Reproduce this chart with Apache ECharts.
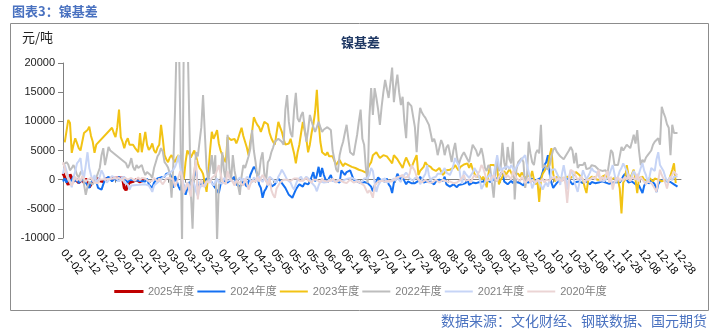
<!DOCTYPE html>
<html><head><meta charset="utf-8">
<script src="https://cdn.jsdelivr.net/npm/echarts/dist/echarts.min.js"></script>
<style>html,body{margin:0;padding:0;background:#fff}#c{width:721px;height:335px}</style>
</head><body><div id="c"></div>
<script>
// calendar of the category axis (leap-year calendar, non-trading holidays removed)
const monthDays = [31,29,31,30,31,30,31,31,30,31,30,31];
const skipDays = ['01-01','04-04','05-01','05-02','05-03','10-01','10-02','10-03','10-04','10-05','10-06','10-07'];
const categories = [];
for (let m = 0; m < 12; m++) {
  for (let d = 1; d <= monthDays[m]; d++) {
    const s = String(m + 1).padStart(2, '0') + '-' + String(d).padStart(2, '0');
    if (skipDays.indexOf(s) < 0) categories.push(s);
  }
}
const yTicks = {min: -10000, max: 20000, step: 5000};
const seriesNames = ['2025年度','2024年度','2023年度','2022年度','2021年度','2020年度'];

const s2025 = [1100,500,-200,-900,900,300,-300,100,0,-500,
 -300,0,-500,200,-600,-1300,-800,-300,0,-200,
 300,-200,100,-300,0,200,null,null,null,null,
 null,null,null,null,300,-1400,-1800,-900,-500,-600,
 -300,-500,0,-200,-400,0,-300];

const s2024 = [-300,200,-500,300,-400,0,500,-300,200,-600,
 -800,0,300,-500,-1000,-1400,-600,0,300,-300,
 -1400,-1200,-1700,-800,0,300,500,200,-300,0,
 300,-200,500,0,-300,400,200,-500,0,null,
 null,null,null,null,null,null,null,-300,200,-800,
 -1000,-1400,-500,-800,200,0,400,600,500,1000,
 800,1100,300,-1400,600,-300,-1200,-1800,-500,-1000,
 -2600,-1500,-500,-800,-200,-500,1600,-1200,-1500,-600,
 -1000,-300,200,500,0,-500,-1000,-1400,-1200,-2300,
 -800,-700,-200,-300,-500,-600,0,300,500,-800,
 -1000,-1200,-1400,-300,-600,-1200,-300,800,1500,2200,
 1800,800,-800,-1400,-3100,-2000,-1500,-800,-300,-1200,
 -1400,-800,-300,200,300,-600,-900,-1400,-2000,-2600,
 -2600,-3100,-2400,-1700,-1200,-800,-1000,-1200,-600,-300,
 -800,-400,500,1300,-300,800,2200,500,2000,800,
 0,-500,300,800,-200,0,-300,-200,-500,1600,
 1200,800,1300,1000,1600,800,0,-200,-300,-600,
 -600,-300,-400,-500,-600,-800,-1200,-2000,-1000,-300,
 400,400,-200,-500,-300,200,-800,-1200,-2300,-500,
 0,1000,500,0,500,-200,-800,-300,0,-600,
 -300,-600,-800,-200,500,300,-500,-600,-300,0,
 -400,-500,-800,-300,-200,0,-300,-200,500,-800,
 -1000,-1200,-1000,-800,-900,-1300,-900,-1100,-800,-700,
 -600,0,-900,-700,-500,-400,-600,-300,-400,-200,
 -300,-500,0,-200,-400,-600,0,400,-300,-500,
 1000,1500,-300,-200,-800,-500,-200,-600,0,-400,
 -300,-600,-500,-1000,-400,-200,-500,-300,200,-400,
 -500,0,-300,300,1300,2500,3000,4200,1000,-500,
 -1400,-1000,-600,-300,0,200,0,-200,500,0,
 -300,-800,-600,-400,-200,-300,-400,-600,-500,-300,
 -500,-800,-400,-300,-600,-900,-500,-400,-300,-600,
 -500,-400,-700,-600,-500,-300,-400,-600,-500,0,
 600,1000,0,-500,-700,-300,-600,-800,-500,-1000,
 -1200,-2300,-1000,-500,-300,-600,0,-400,-800,-2100,
 -800,-300,-500,0,-100,-300,-600,-400,-200,-800,
 -600,-1200];

const s2023 = [null,6400,6200,10250,9700,4600,6000,7100,7300,5400,
 5000,4700,8000,8200,8500,9100,7500,6500,4600,6000,
 null,null,null,null,null,null,null,null,8900,8000,
 7300,9000,12000,7300,6500,5400,6500,7100,6000,6200,
 6000,5500,5200,4700,8000,4700,6500,8200,6000,5100,
 5500,6200,5000,4600,5500,6000,9400,7000,4200,3500,
 3000,3800,4200,3500,3000,3800,4200,2500,1500,0,
 3000,5000,4500,3800,3900,5000,4000,2800,2000,1600,
 1000,-500,-2100,1000,5000,8200,7000,7700,8500,6200,
 5000,4200,3500,3000,7300,7000,6800,6800,7000,6200,
 7000,8000,8900,7500,6500,5500,4200,6500,8200,10700,
 10000,9400,9000,8200,9000,9900,9600,9500,8000,7100,
 6500,6000,8000,9900,9000,8200,7000,6000,6000,6200,
 7000,7300,4500,2800,4700,6000,8000,9900,9600,7000,
 4700,6000,8000,9500,11600,15400,10000,6500,4700,4500,
 4200,4700,4000,3700,4000,4200,2500,3000,3400,2800,
 2300,2800,2800,2500,2600,2200,2000,2000,1800,1700,
 1600,1500,1300,1200,1100,2500,3000,4200,4500,4700,
 4200,3700,4000,4200,4200,4000,3800,3200,2800,4200,
 4000,3500,3000,2500,2000,3000,3800,3500,2500,2000,
 2800,3500,4200,800,1500,1600,2200,3000,2500,2400,
 2200,1800,1600,1500,1700,2000,1800,800,1200,1600,
 1600,1700,1600,2000,2500,2000,1600,2200,2500,2600,
 2700,2800,2000,2800,1800,1000,500,300,600,0,
 500,0,-1300,1000,2500,2200,2500,2500,2000,-800,
 0,500,1500,800,1000,1800,1200,500,1000,1200,
 1000,500,1200,800,300,500,800,300,1500,0,
 -800,-200,-3800,0,1000,1500,2000,2500,4200,5400,
 1000,-300,500,800,300,500,200,0,500,800,
 300,500,800,1300,1000,800,1000,0,-1300,-2300,
 0,300,500,500,400,0,300,0,500,800,
 800,300,500,0,200,300,500,0,-1500,-5800,
 -500,0,2500,800,300,1000,1700,0,-2300,300,
 300,500,0,200,-200,300,0,-300,200,0,
 0,300,-300,-500,0,300,-200,0,1700,2800,
 -600];

const s2022 = [2500,2800,3000,2600,1600,2000,2500,1800,800,400,
 1200,1600,-800,-2600,-1200,-400,-300,-800,-200,300,
 500,2000,4200,5400,2500,4000,5600,5000,4800,null,
 null,null,null,null,null,null,2800,2000,2600,3700,
 2200,1600,2500,2000,2300,2500,1500,800,1300,1000,
 800,300,2000,3000,4000,4500,5400,4800,3000,2600,
 2100,1000,-3100,2500,12000,25000,28000,10000,-11000,24000,
 30000,27000,12000,-2000,-8400,1000,4700,4000,4200,9000,
 14500,8000,2000,-300,2000,4200,1000,4200,-10500,-1000,
 0,4700,1500,-300,7700,2000,-300,4200,1500,0,
 -1000,-2600,500,2500,2000,3000,4000,5400,8500,5000,
 3000,300,1000,3500,4700,1000,-300,3000,3500,4700,
 5500,6500,6800,7000,7100,6500,6000,12000,14500,9900,
 8000,7300,12000,14900,10500,9900,11000,11600,9000,6500,
 8500,11100,10000,9000,8200,9000,9900,9000,8200,8600,
 8900,9000,9000,8500,5000,3500,1800,1300,4200,5500,
 6500,8000,9400,7000,4700,4500,4200,6000,7700,10000,
 12000,7000,6000,2000,-600,10700,15700,11100,15700,14000,
 12000,9400,12500,15000,17100,15500,14000,16500,19200,13300,
 16000,18000,15000,12800,14200,10000,7100,13300,13000,12600,
 12800,9000,4700,9500,12300,11500,11000,10600,10000,9400,
 8000,6500,7000,6000,4200,5500,6800,6000,4200,5500,
 6000,4500,3000,5000,6300,4000,2500,3500,4200,4700,
 4700,3500,3000,4500,6000,6200,5000,4000,4500,5400,
 4000,2000,1500,2500,2000,1700,-3100,1000,3400,1500,
 2000,6300,3000,1700,5600,3500,2800,6500,-3400,1700,
 3000,3000,3700,3000,-1400,500,6500,4500,3000,2500,
 4500,5100,4500,9400,2000,2500,2200,1700,2500,4000,
 5100,5500,4800,5000,4000,3700,3500,4000,4200,5000,
 5600,5000,2800,4600,2000,2500,2200,2500,3000,1800,
 1500,2000,2500,2200,2300,2000,1700,1700,1500,1600,
 1600,1000,3000,5100,4600,2500,2400,2500,4000,5600,
 5000,4800,6000,5800,5400,6500,7700,6200,8500,5000,
 2500,3400,3000,3800,4200,4000,5000,6000,6500,6800,
 7100,6000,12500,11500,10700,9500,8900,4200,9400,8000,
 8000,8000];

const s2021 = [1000,2500,1500,500,-300,-1300,400,1500,2800,3200,
 3700,1000,300,2500,4700,2000,800,-300,800,-500,
 0,500,1600,1000,0,-500,-800,200,600,300,
 300,0,-300,0,500,-500,-200,-800,-1700,-1000,
 null,null,null,null,null,null,null,-800,-500,-1000,
 -1500,-2100,-1000,-800,-500,-300,0,400,700,800,
 900,1200,1500,1700,2200,3000,4200,2000,500,-1000,
 -1700,-500,-1000,-1700,-300,-800,-2000,-2800,-1500,-1000,
 -800,-1200,-500,-300,0,-600,-1000,-400,200,-500,
 -300,-700,300,500,-200,-400,0,300,-600,-300,
 0,400,-200,200,-300,500,200,0,-500,400,
 300,-200,600,0,-400,300,100,-300,500,200,
 0,300,-500,500,1000,1700,1200,600,0,-200,
 -500,-1200,-1700,-800,0,300,500,-200,0,500,
 300,0,-500,-800,-1200,-2000,-1000,-300,0,-500,
 -300,-400,0,300,-200,-500,-400,0,200,-300,
 -200,0,300,200,-100,300,500,0,200,-300,
 0,-300,200,500,300,800,2000,1500,-500,-2100,
 -1000,-500,0,-300,200,-500,-800,-300,0,200,
 -200,300,0,-400,500,800,1200,800,200,-100,
 -200,300,500,200,-800,0,300,1000,2500,800,
 -200,300,0,500,1000,800,1000,1500,2000,1200,
 1000,800,1500,2500,3700,3000,2500,500,-700,1500,
 1000,800,300,500,1200,2000,1500,1100,200,-1600,
 -1600,-500,200,0,1000,-500,800,2500,4200,2500,
 1700,1500,2000,2200,2300,1800,2500,2000,1500,2200,
 2500,3000,3500,3800,4200,2500,1300,0,-1500,-700,
 -800,0,-500,-1000,-1700,-1000,-500,-1200,0,1700,
 2000,1800,1700,500,-900,1000,2500,800,-1700,500,
 1600,1000,-200,-1200,-2100,-500,200,1600,800,0,
 0,1200,2000,1500,1500,1200,600,0,-200,-300,
 -200,300,800,1700,2500,1000,-500,500,1500,2000,
 2800,2500,1500,600,-200,800,1500,800,0,1000,
 2000,2800,1500,800,-500,500,2000,1700,1500,3500,
 4700,2500,2000,1500,500,-300,0,500,-100,500,
 300,600];

const s2020 = [3000,2000,800,0,-500,-1000,-300,500,-200,300,
 -300,600,200,-400,0,-200,300,-100,-500,-200,
 -600,0,null,null,null,null,null,null,null,null,
 null,null,300,0,-200,400,200,0,-300,300,
 200,-200,0,400,-100,300,500,200,0,-300,
 -500,-200,300,0,-300,200,-400,-800,-300,200,
 500,300,400,0,-1200,-500,-300,1500,500,-2300,
 -1500,-500,-800,-2900,0,1600,3400,-3400,-700,0,
 -1200,-800,-300,0,-500,300,0,800,1600,2500,
 1000,-300,-600,-800,1500,300,0,-400,-1000,-200,
 0,-500,-700,-1000,200,-600,-1700,-800,-200,-500,
 -300,500,-300,0,800,500,-200,-1000,300,-1800,
 -2600,-3100,-1500,-1000,-500,-300,0,-200,0,300,
 -200,-300,200,500,200,-200,0,-200,-400,300,
 -100,200,-500,0,300,0,-300,-500,200,-200,
 0,-300,-600,-200,200,-100,-500,-300,0,-300,
 -400,-200,-600,-300,0,-200,-500,-800,-300,-500,
 -600,-800,-1000,-1200,-2300,-1800,-2300,-3100,-1000,-700,
 -300,-500,-200,0,-300,-500,-200,0,-300,0,
 300,0,500,200,800,300,0,500,1000,2500,
 2500,1500,500,0,-300,-500,-200,0,-300,-500,
 -200,-500,-300,0,-200,-500,-300,0,300,-300,
 -500,-300,0,-600,-300,-500,-200,0,-300,800,
 -200,-300,0,-500,300,800,400,1000,1500,2500,
 2000,1000,-200,-500,0,300,800,200,-300,500,
 800,1500,1000,300,800,500,0,1500,800,300,
 0,-300,500,0,-600,-200,300,-500,0,-300,
 -500,0,300,-300,200,-500,0,300,-200,200,
 0,500,-200,300,0,-300,500,-800,-4000,-500,
 1700,1500,1300,500,0,-200,500,0,-600,0,
 300,0,-300,500,0,300,1700,-300,500,0,
 800,1500,-500,500,-1700,-300,0,500,-300,200,
 -200,500,0,800,-300,500,200,0,1000,-300,
 500,0,-300,-800,-300,-500,-600,-1000,-1500,-2100,
 -2100,1700,800,1000,-500,-1500,-200,0,800,1400,
 1000,800];

const seriesData = [s2025, s2024, s2023, s2022, s2021, s2020];
const seriesColors = ['#c00000','#1470f2','#f2c314','#bdbdbd','#c6d4f6','#ebd4d4'];
const seriesWidths = [3, 2, 2, 2, 2, 2];

const chart = echarts.init(document.getElementById('c'));
const FONT = 'Arial, "Liberation Sans", "Noto Sans CJK SC", sans-serif';
chart.setOption({
  animation: false,
  textStyle: {fontFamily: FONT},
  title: {text: '镍基差', left: 'center', top: 31,
    textStyle: {fontSize: 13, fontWeight: 'bold', color: '#1f3864', fontFamily: '"Noto Sans CJK SC", sans-serif'}},
  grid: {left: 63, right: 40, top: 63, bottom: 97},
  legend: {top: 281, left: 'center', itemWidth: 28, itemHeight: 2, itemGap: 3, icon: 'rect',
    textStyle: {color: '#808080', fontSize: 11, fontFamily: FONT},
    data: seriesNames.map((n, i) => ({
      name: n, icon: 'rect',
      itemStyle: {color: seriesColors[i], borderColor: seriesColors[i], borderWidth: seriesWidths[i] > 2 ? 1.2 : 0}
    }))},
  xAxis: [
    {type: 'category', data: categories, boundaryGap: false,
     axisLine: {onZero: true, lineStyle: {color: '#7f7f7f', width: 1}},
     axisTick: {show: true, interval: 9, length: 3, lineStyle: {color: '#7f7f7f'}},
     axisLabel: {show: false}, splitLine: {show: false}},
    {type: 'category', data: categories, boundaryGap: false, position: 'bottom',
     axisLine: {show: false, onZero: false}, axisTick: {show: false},
     axisLabel: {interval: 9, rotate: -52, fontSize: 11, color: '#000', margin: 13}}
  ],
  yAxis: {type: 'value', min: yTicks.min, max: yTicks.max, interval: yTicks.step,
    axisLine: {show: true, lineStyle: {color: '#7f7f7f'}},
    axisTick: {show: true, length: 5, lineStyle: {color: '#7f7f7f'}},
    axisLabel: {fontSize: 11, color: '#222', margin: 8, formatter: v => String(v)}, splitLine: {show: false}},
  series: seriesNames.map((n, i) => ({
    name: n, type: 'line', xAxisIndex: 0, data: seriesData[i], symbol: 'none', showSymbol: false,
    connectNulls: true, clip: true,
    lineStyle: {width: seriesWidths[i], color: seriesColors[i]}, itemStyle: {color: seriesColors[i]}
  })),
  graphic: [
    {type: 'rect', shape: {x: 10.5, y: 23.5, width: 698, height: 287}, style: {fill: 'none', stroke: '#8c8c8c', lineWidth: 1}, silent: true},
    {type: 'text', left: 12, top: 5, style: {text: '图表3：镍基差', fill: '#4a72c0', font: 'bold 13px "Noto Sans CJK SC", sans-serif'}},
    {type: 'text', left: 22, top: 31, style: {text: '元/吨', fill: '#222', font: '13px "Noto Sans CJK SC", sans-serif'}},
    {type: 'text', right: 14, top: 314, style: {text: '数据来源：文化财经、钢联数据、国元期货', fill: '#4a72c0', font: '14px "Noto Sans CJK SC", sans-serif'}}
  ]
});
</script></body></html>
